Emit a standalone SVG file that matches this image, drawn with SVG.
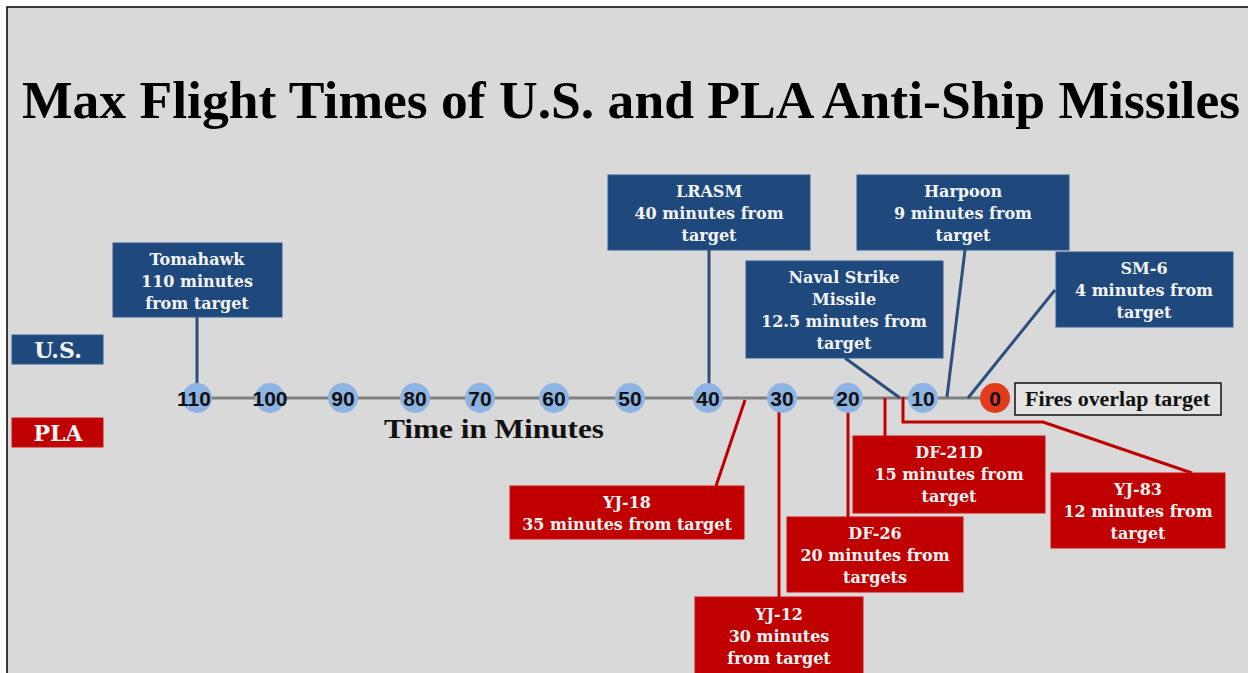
<svg xmlns="http://www.w3.org/2000/svg" width="1248" height="673" viewBox="0 0 1248 673">
<style>
.bx{fill:#1f497d;stroke:#2e5a8f;stroke-width:1}
.rx{fill:#c00000;stroke:#d01010;stroke-width:1}
.bt{font-family:"DejaVu Serif","Liberation Serif",serif;font-weight:bold;font-size:16px;fill:#f4f4f4;text-anchor:middle}
.num{font-family:"Liberation Sans",Arial,sans-serif;font-weight:bold;font-size:21px;fill:#111;text-anchor:middle}
.tick{fill:#8eb4e3}
.bl{stroke:#2c4f7c;stroke-width:3;fill:none}
.rl{stroke:#c00000;stroke-width:3;fill:none}
</style>
<rect x="0" y="0" width="1248" height="673" fill="#ffffff"/>
<rect x="7" y="7" width="1241" height="666" fill="#d9d9d9"/>
<path d="M7,673 V7 H1248" fill="none" stroke="#000" stroke-width="1.5"/>
<text x="22" y="118" font-family="Liberation Serif,DejaVu Serif,serif" font-weight="bold" font-size="53" fill="#000" textLength="1218" lengthAdjust="spacingAndGlyphs">Max Flight Times of U.S. and PLA Anti-Ship Missiles</text>

<g id="legend-us"><rect x="12" y="335" width="91" height="29" class="bx"/><text x="58" y="358" class="bt" font-size="22" style="font-size:22px">U.S.</text></g>
<g id="legend-pla"><rect x="12" y="418" width="91" height="29" class="rx"/><text x="58" y="441" class="bt" style="font-size:22px">PLA</text></g>

<g id="connectors">
<line x1="197" y1="398" x2="995" y2="398" stroke="#808080" stroke-width="3"/>
<line x1="197" y1="317" x2="197" y2="385" class="bl"/>
<line x1="709" y1="250" x2="709" y2="384" class="bl"/>
<line x1="845" y1="358" x2="900" y2="398" class="bl"/>
<line x1="965" y1="250" x2="947" y2="397" class="bl"/>
<line x1="1055" y1="290" x2="968" y2="398" class="bl"/>
<line x1="745" y1="400" x2="716" y2="486" class="rl"/>
<line x1="779" y1="412" x2="779" y2="597" class="rl"/>
<line x1="848" y1="412" x2="848" y2="517" class="rl"/>
<line x1="885" y1="398" x2="885" y2="436" class="rl"/>
<polyline points="903,397 903,422 1043,422 1192,473" class="rl"/>
</g>

<g id="axis">
<circle cx="197" cy="398" r="15" class="tick"/><text x="194" y="406" class="num">110</text>
<circle cx="270" cy="398" r="15" class="tick"/><text x="270" y="406" class="num">100</text>
<circle cx="343" cy="398" r="15" class="tick"/><text x="343" y="406" class="num">90</text>
<circle cx="415" cy="398" r="15" class="tick"/><text x="415" y="406" class="num">80</text>
<circle cx="480" cy="398" r="15" class="tick"/><text x="480" y="406" class="num">70</text>
<circle cx="554" cy="398" r="15" class="tick"/><text x="554" y="406" class="num">60</text>
<circle cx="630" cy="398" r="15" class="tick"/><text x="630" y="406" class="num">50</text>
<circle cx="708" cy="398" r="15" class="tick"/><text x="708" y="406" class="num">40</text>
<circle cx="782" cy="398" r="15" class="tick"/><text x="782" y="406" class="num">30</text>
<circle cx="848" cy="398" r="15" class="tick"/><text x="848" y="406" class="num">20</text>
<circle cx="923" cy="398" r="15" class="tick"/><text x="923" y="406" class="num">10</text>
<circle cx="995" cy="398" r="15" fill="#e23a1a"/><text x="995" y="406" class="num">0</text>
<text x="384" y="438" font-family="Liberation Serif,DejaVu Serif,serif" font-weight="bold" font-size="28" fill="#111" textLength="220" lengthAdjust="spacingAndGlyphs">Time in Minutes</text>
</g>

<g id="fires-overlap"><rect x="1015" y="383" width="206" height="32" fill="#e3e3e3" stroke="#111" stroke-width="1.5"/><text x="1025" y="406" font-family="Liberation Serif,DejaVu Serif,serif" font-weight="bold" font-size="20" fill="#111" textLength="185" lengthAdjust="spacingAndGlyphs">Fires overlap target</text></g>

<g id="tomahawk"><rect x="113" y="243" width="169" height="74" class="bx"/>
<text class="bt"><tspan x="197" y="265">Tomahawk</tspan><tspan x="197" y="287">110 minutes</tspan><tspan x="197" y="309">from target</tspan></text></g>
<g id="lrasm"><rect x="608" y="175" width="202" height="75" class="bx"/>
<text class="bt"><tspan x="709" y="197">LRASM</tspan><tspan x="709" y="219">40 minutes from</tspan><tspan x="709" y="241">target</tspan></text></g>
<g id="nsm"><rect x="746" y="261" width="197" height="97" class="bx"/>
<text class="bt"><tspan x="844" y="283">Naval Strike</tspan><tspan x="844" y="305">Missile</tspan><tspan x="844" y="327">12.5 minutes from</tspan><tspan x="844" y="349">target</tspan></text></g>
<g id="harpoon"><rect x="857" y="175" width="212" height="75" class="bx"/>
<text class="bt"><tspan x="963" y="197">Harpoon</tspan><tspan x="963" y="219">9 minutes from</tspan><tspan x="963" y="241">target</tspan></text></g>
<g id="sm6"><rect x="1056" y="252" width="177" height="75" class="bx"/>
<text class="bt"><tspan x="1144" y="274">SM-6</tspan><tspan x="1144" y="296">4 minutes from</tspan><tspan x="1144" y="318">target</tspan></text></g>

<g id="yj18"><rect x="510" y="486" width="234" height="53" class="rx"/>
<text class="bt"><tspan x="627" y="508">YJ-18</tspan><tspan x="627" y="530">35 minutes from target</tspan></text></g>
<g id="yj12"><rect x="695" y="597" width="168" height="80" class="rx"/>
<text class="bt"><tspan x="779" y="620">YJ-12</tspan><tspan x="779" y="642">30 minutes</tspan><tspan x="779" y="664">from target</tspan></text></g>
<g id="df26"><rect x="787" y="517" width="176" height="75" class="rx"/>
<text class="bt"><tspan x="875" y="539">DF-26</tspan><tspan x="875" y="561">20 minutes from</tspan><tspan x="875" y="583">targets</tspan></text></g>
<g id="df21d"><rect x="853" y="436" width="192" height="77" class="rx"/>
<text class="bt"><tspan x="949" y="458">DF-21D</tspan><tspan x="949" y="480">15 minutes from</tspan><tspan x="949" y="502">target</tspan></text></g>
<g id="yj83"><rect x="1051" y="473" width="174" height="75" class="rx"/>
<text class="bt"><tspan x="1138" y="495">YJ-83</tspan><tspan x="1138" y="517">12 minutes from</tspan><tspan x="1138" y="539">target</tspan></text></g>
</svg>
